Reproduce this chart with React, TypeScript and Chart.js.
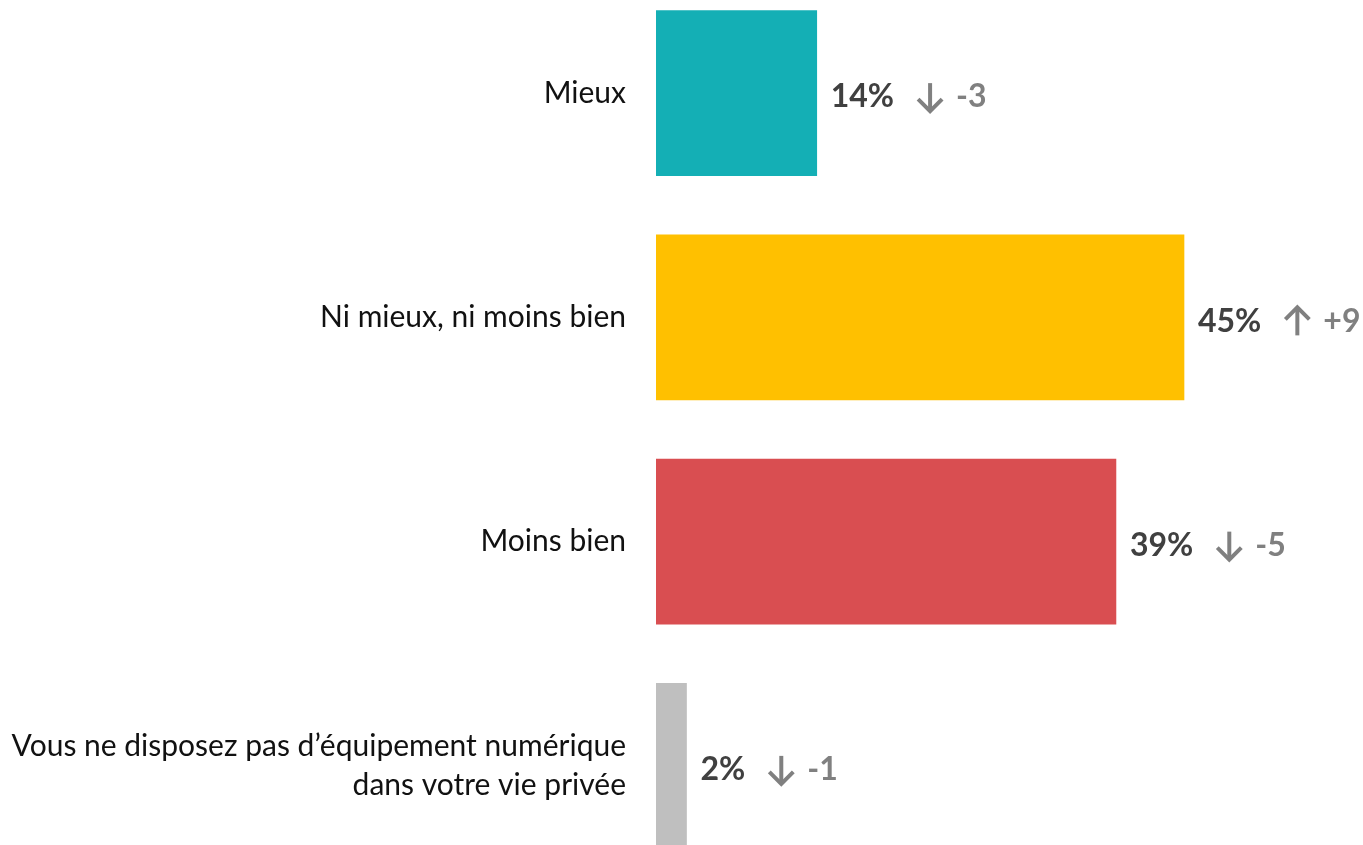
import React, { useEffect, useRef } from "react";
import { Chart, registerables } from "chart.js";

Chart.register(...registerables);

const categories: (string | string[])[] = [
  "Mieux",
  "Ni mieux, ni moins bien",
  "Moins bien",
  ["Vous ne disposez pas d’équipement numérique", "dans votre vie privée"],
];
// bar lengths
const values = [13.7, 45, 39.2, 2.6];
// percentages printed next to the bars
const pctLabels = ["14%", "45%", "39%", "2%"];
const deltas = [-3, 9, -5, -1];
const barColors = ["#14AFB5", "#FFC000", "#D94E51", "#BFBFBF"];

const valueLabelPlugin = {
  id: "valueLabels",
  afterDatasetsDraw(chart: any) {
    const ctx = chart.ctx;
    const meta = chart.getDatasetMeta(0);
    ctx.save();
    meta.data.forEach((bar: any, i: number) => {
      const x0 = bar.x + 14;
      const y = bar.y + 4;
      ctx.font = "bold 32px Lato";
      ctx.textBaseline = "middle";
      ctx.textAlign = "left";
      ctx.fillStyle = "#404040";
      const txt = pctLabels[i];
      ctx.fillText(txt, x0, y);
      const w = ctx.measureText(txt).width;
      const ax = x0 + w + 22;
      const aw = 28;
      const cx = ax + aw / 2;
      const top = y - 14;
      const bot = y + 14;
      ctx.strokeStyle = "#808080";
      ctx.lineWidth = 4;
      ctx.lineCap = "butt";
      ctx.lineJoin = "miter";
      ctx.beginPath();
      ctx.moveTo(cx, top);
      ctx.lineTo(cx, bot);
      ctx.stroke();
      ctx.beginPath();
      if (deltas[i] < 0) {
        ctx.moveTo(cx - 12, bot - 12);
        ctx.lineTo(cx, bot);
        ctx.lineTo(cx + 12, bot - 12);
      } else {
        ctx.moveTo(cx - 12, top + 12);
        ctx.lineTo(cx, top);
        ctx.lineTo(cx + 12, top + 12);
      }
      ctx.stroke();
      ctx.fillStyle = "#808080";
      const d = deltas[i] > 0 ? "+" + deltas[i] : "-" + Math.abs(deltas[i]);
      ctx.fillText(d, ax + aw + 12, y);
    });
    ctx.restore();
  },
};

export default function App() {
  const ref = useRef<HTMLCanvasElement>(null);
  useEffect(() => {
    if (!ref.current) return;
    const chart = new Chart(ref.current, {
      type: "bar",
      data: {
        labels: categories,
        datasets: [
          {
            data: values,
            backgroundColor: barColors,
            barThickness: 165,
            borderWidth: 0,
          },
        ],
      },
      options: {
        indexAxis: "y",
        animation: false,
        responsive: false,
        layout: { padding: { left: 0, right: 3, top: 0, bottom: 0 } },
        plugins: {
          legend: { display: false },
          tooltip: { enabled: false },
        },
        scales: {
          x: {
            min: 0,
            max: 60,
            display: false,
          },
          y: {
            grid: { display: false, drawTicks: false },
            border: { display: false },
            afterFit: (scale: any) => {
              scale.width = 656;
              scale.paddingTop = 0;
              scale.paddingBottom = 0;
            },
            ticks: {
              padding: 30,
              color: "#111111",
              font: { family: "Lato", size: 30, lineHeight: 1.3 },
            },
          },
        },
      },
      plugins: [valueLabelPlugin],
    });
    return () => chart.destroy();
  }, []);
  return (
    <div
      style={{
        position: "fixed",
        left: 0,
        top: 0,
        width: 1363,
        height: 845,
        overflow: "hidden",
        background: "#ffffff",
      }}
    >
      <div style={{ position: "absolute", left: 0, top: -19, width: 1363, height: 897 }}>
        <canvas ref={ref} width={1363} height={897} />
      </div>
    </div>
  );
}
